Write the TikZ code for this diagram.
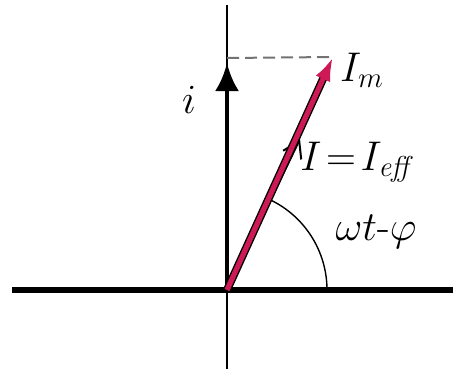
\documentclass[tikz,border=0pt]{standalone}
\usetikzlibrary{arrows.meta, calc}
\definecolor{phasor}{RGB}{205,25,85}

\begin{document}
\begin{tikzpicture}[
  x=0.5pt, y=-0.5pt,
  font=\fontsize{21}{23}\selectfont,
  axis/.style={draw=black, line width=2.8pt},
  thinaxis/.style={draw=black, line width=1.3pt},
  up/.style={draw=black, line width=2.4pt, -{Latex[length=14pt, width=12pt]}},
  vec/.style={draw=black, line width=4pt},
  vecin/.style={draw=phasor, line width=2.6pt, -{Latex[length=12pt, width=8pt]}},
  thinvec/.style={draw=black, line width=1pt, -{Straight Barb[length=8pt, width=10pt]}},
  guide/.style={draw=black!55, line width=1pt, dash pattern=on 6pt off 3pt},
  angarc/.style={draw=black, line width=0.7pt},
]
\useasboundingbox (0,0) rectangle (453,369);

% ---- points ----------------------------------------------------------------
\coordinate (O)    at (227,290);
\coordinate (xl)   at (12,290);
\coordinate (xr)   at (453,290);
\coordinate (yb)   at (227,369);
\coordinate (yt)   at (227,5);
\coordinate (ytip) at (227,63);
\coordinate (Im)   at (333,57);
\coordinate (Ieff) at (300,139);
\coordinate (foot) at (227,58);
\coordinate (a0)   at (327,290);

% ---- axes -------------------------------------------------------------------
\draw[axis] (xl) -- (xr);
\draw[thinaxis] (yb) -- (yt);
\draw[up] (O) -- (ytip);

% ---- the phasor, with its peak value ---------------------------------------
\draw[guide] (foot) -- (Im);
\draw[thinvec] (O) -- (Ieff);
\draw[vec] (O) -- ($(O)!0.93!(Im)$);
\draw[vecin] (O) -- (Im);
\draw[angarc] (a0) arc[start angle=0, end angle=-64, radius=100];

% ---- labels -------------------------------------------------------------------
\node (li)  at (189,100) {$i$};
\node (lIm) at (362,70) {$I_m$};
\node (lIe) at (358,162) {$I\!=\!I_{\mathit{eff}}$};
\node (lwt) at (376,232) {$\omega t\mbox{-}\varphi$};

\end{tikzpicture}
\end{document}
